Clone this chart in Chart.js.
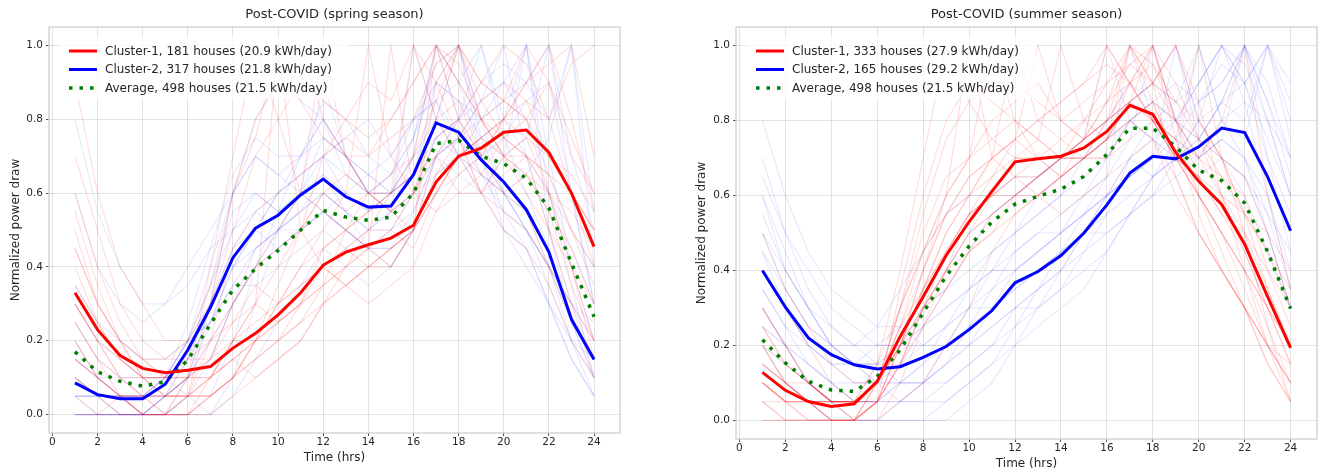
<!DOCTYPE html>
<html>
<head>
<meta charset="utf-8">
<script src="https://cdn.jsdelivr.net/npm/chart.js@4.4.1/dist/chart.umd.min.js"></script>
<style>
    body { margin: 0; background: #fff; }
    #wrap { position: relative; width: 1321px; height: 471px; }
    canvas { position: absolute; top: 0; }
</style>
</head>
<body>
<div id="wrap">
    <canvas id="spring" width="660" height="471" style="left:0"></canvas>
    <canvas id="summer" width="661" height="471" style="left:660px"></canvas>
</div>
<script>
'use strict';

// ось времени и подписи делений
const hours = [1, 2, 3, 4, 5, 6, 7, 8, 9, 10, 11, 12, 13, 14, 15, 16, 17, 18, 19, 20, 21, 22, 23, 24];
const xTicks = [0, 2, 4, 6, 8, 10, 12, 14, 16, 18, 20, 22, 24];
const yTicks = [0, 0.2, 0.4, 0.6, 0.8, 1.0];

// весна
const springTitle = 'Post-COVID (spring season)';
const springLabels = [
    'Cluster-1, 181 houses (20.9 kWh/day)',
    'Cluster-2, 317 houses (21.8 kWh/day)',
    'Average, 498 houses (21.5 kWh/day)',
];
const springCluster1 = [0.33, 0.23, 0.16, 0.125, 0.113, 0.12, 0.13, 0.18, 0.22, 0.27, 0.33, 0.405,
    0.44, 0.46, 0.478, 0.513, 0.63, 0.70, 0.722, 0.765, 0.771, 0.71, 0.60, 0.455];
const springCluster2 = [0.086, 0.054, 0.043, 0.043, 0.082, 0.175, 0.29, 0.425, 0.505, 0.54, 0.595, 0.638,
    0.59, 0.562, 0.565, 0.65, 0.79, 0.765, 0.69, 0.63, 0.555, 0.44, 0.258, 0.149];
const springAverage = [0.17, 0.116, 0.09, 0.077, 0.089, 0.148, 0.245, 0.338, 0.395, 0.445, 0.50, 0.553,
    0.535, 0.526, 0.535, 0.60, 0.734, 0.743, 0.70, 0.68, 0.64, 0.56, 0.41, 0.265];

// отдельные дома (фон), весна
const springHouses1 = [
    [0.6, 0.4, 0.25, 0.15, 0.1, 0.1, 0.1, 0.15, 0.2, 0.25, 0.3, 0.4, 0.45, 0.5, 0.5, 0.6, 0.8, 1.0, 0.9, 0.85, 0.8, 0.7, 0.6, 0.5],
    [0.3, 0.2, 0.1, 0.05, 0, 0, 0.05, 0.1, 0.2, 0.3, 0.35, 0.4, 0.45, 0.4, 0.45, 0.5, 0.7, 0.8, 0.9, 1.0, 0.95, 0.8, 0.6, 0.4],
    [0.1, 0.05, 0, 0, 0, 0, 0.1, 0.2, 0.3, 0.4, 0.5, 0.6, 0.55, 0.6, 0.6, 0.7, 1.0, 0.9, 0.8, 0.7, 0.75, 0.6, 0.4, 0.2],
    [0.5, 0.3, 0.2, 0.15, 0.1, 0.15, 0.2, 0.25, 0.3, 0.25, 0.3, 0.35, 0.4, 0.45, 0.5, 0.45, 0.6, 0.7, 0.8, 0.85, 1.0, 0.9, 0.75, 0.6],
    [0.2, 0.1, 0.05, 0, 0, 0, 0, 0.05, 0.1, 0.15, 0.2, 0.3, 0.35, 0.3, 0.35, 0.4, 0.55, 0.65, 0.7, 0.8, 0.9, 1.0, 0.8, 0.55],
    [0, 0, 0.05, 0, 0.05, 0.1, 0.2, 0.3, 0.4, 0.5, 0.6, 1.0, 0.7, 0.6, 0.55, 0.5, 0.6, 0.7, 0.6, 0.65, 0.7, 0.5, 0.3, 0.1],
    [0.4, 0.25, 0.15, 0.1, 0.1, 0.05, 0.05, 0.1, 0.15, 0.2, 0.3, 0.35, 0.4, 0.5, 0.6, 1.0, 0.8, 0.7, 0.75, 0.8, 0.85, 0.7, 0.6, 0.5],
    [0.7, 0.5, 0.3, 0.2, 0.15, 0.15, 0.15, 0.2, 0.2, 0.25, 0.3, 0.45, 0.5, 0.55, 0.6, 0.65, 0.7, 0.6, 0.6, 0.7, 0.65, 0.6, 0.55, 0.45],
    [0.15, 0.1, 0.05, 0.05, 0.05, 0.1, 0.1, 0.2, 0.25, 0.3, 0.4, 0.45, 0.5, 0.45, 0.4, 0.5, 0.9, 1.0, 0.8, 0.75, 0.7, 0.65, 0.5, 0.35],
    [0.3, 0.2, 0.1, 0.1, 0.05, 0.05, 0.1, 0.15, 0.1, 0.15, 0.2, 0.3, 0.4, 0.45, 1.0, 0.6, 0.55, 0.6, 0.65, 0.75, 0.8, 0.9, 0.7, 0.6],
    [0.45, 0.3, 0.2, 0.1, 0.1, 0.1, 0.15, 0.25, 0.35, 0.3, 0.35, 0.4, 0.35, 0.4, 0.45, 0.5, 0.65, 0.75, 0.85, 0.9, 0.85, 0.8, 0.95, 1.0],
    [0.25, 0.15, 0.1, 0.05, 0.05, 0.05, 0.1, 0.2, 0.3, 1.0, 0.5, 0.4, 0.35, 0.4, 0.45, 0.5, 0.6, 0.7, 0.75, 0.7, 0.65, 0.55, 0.45, 0.3],
    [0.9, 0.6, 0.4, 0.3, 0.2, 0.2, 0.3, 0.5, 0.7, 0.8, 0.9, 0.85, 0.8, 0.75, 0.8, 0.9, 1.0, 0.9, 0.8, 0.7, 0.6, 0.5, 0.4, 0.3],
    [0.05, 0, 0, 0, 0, 0.05, 0.3, 0.6, 0.8, 0.9, 1.0, 0.8, 0.7, 0.6, 0.55, 0.6, 0.7, 0.75, 0.6, 0.5, 0.45, 0.35, 0.2, 0.1],
    [0.2, 0.1, 0.05, 0, 0, 0.1, 0.4, 0.7, 1.0, 0.8, 0.6, 0.55, 0.5, 0.55, 0.6, 0.65, 0.8, 0.85, 0.7, 0.6, 0.55, 0.4, 0.3, 0.2],
    [0.35, 0.25, 0.15, 0.1, 0.05, 0.05, 0.1, 0.15, 0.2, 0.2, 0.25, 0.3, 0.35, 0.4, 0.4, 0.5, 1.0, 0.95, 0.8, 0.7, 0.7, 0.65, 0.6, 0.5],
    [0.1, 0.05, 0.05, 0, 0, 0, 0.05, 0.1, 0.15, 0.2, 0.25, 0.35, 0.5, 0.6, 0.65, 0.7, 0.85, 1.0, 0.9, 0.85, 0.8, 0.6, 0.4, 0.15],
    [0.55, 0.35, 0.2, 0.1, 0.05, 0.05, 0.05, 0.1, 0.2, 0.3, 0.4, 0.5, 0.6, 1.0, 0.7, 0.6, 0.65, 0.7, 0.75, 0.8, 0.75, 0.7, 0.65, 0.55],
    [0.25, 0.15, 0.05, 0.05, 0, 0.05, 0.2, 0.45, 0.55, 0.6, 0.65, 0.7, 0.75, 0.7, 0.8, 0.9, 1.0, 0.8, 0.65, 0.6, 0.65, 0.55, 0.35, 0.2],
    [0.3, 0.2, 0.15, 0.1, 0.1, 0.1, 0.15, 0.3, 0.4, 0.45, 0.5, 0.6, 0.65, 0.6, 0.55, 0.6, 0.75, 0.8, 0.7, 0.8, 0.9, 0.95, 1.0, 0.7],
    [0.15, 0.1, 0.05, 0.05, 0.05, 0.05, 0.05, 0.1, 0.2, 0.35, 0.5, 0.7, 0.8, 0.9, 0.85, 1.0, 0.9, 0.75, 0.6, 0.55, 0.5, 0.4, 0.25, 0.15],
    [0.45, 0.3, 0.2, 0.15, 0.15, 0.2, 0.35, 0.6, 0.75, 1.0, 0.85, 0.75, 0.7, 0.7, 0.75, 0.8, 0.95, 1.0, 0.85, 0.75, 0.7, 0.6, 0.5, 0.4],
];
const springHouses2 = [
    [0.1, 0.05, 0.05, 0.05, 0.1, 0.2, 0.35, 0.5, 0.6, 0.55, 0.6, 0.7, 0.6, 0.55, 0.6, 0.7, 1.0, 0.8, 0.7, 0.6, 0.5, 0.35, 0.2, 0.1],
    [0.05, 0.05, 0, 0, 0.05, 0.15, 0.3, 0.45, 0.5, 0.6, 0.7, 0.8, 0.65, 0.6, 0.55, 0.7, 0.8, 1.0, 0.8, 0.6, 0.5, 0.4, 0.25, 0.15],
    [0.15, 0.1, 0.1, 0.1, 0.1, 0.2, 0.25, 0.4, 0.45, 0.5, 0.55, 0.6, 0.55, 0.5, 0.5, 0.55, 0.7, 0.75, 0.85, 1.0, 0.7, 0.5, 0.3, 0.2],
    [0, 0, 0, 0, 0.05, 0.1, 0.2, 0.3, 0.4, 0.45, 0.5, 0.55, 0.6, 0.65, 0.6, 0.65, 0.75, 0.7, 0.75, 0.8, 1.0, 0.6, 0.35, 0.1],
    [0.2, 0.1, 0.05, 0.05, 0.1, 0.2, 0.4, 0.6, 0.7, 0.65, 0.6, 0.55, 0.5, 0.45, 0.5, 0.6, 0.7, 0.65, 0.6, 0.7, 0.75, 1.0, 0.6, 0.3],
    [0.05, 0, 0, 0, 0, 0.1, 0.3, 0.45, 0.55, 0.6, 0.65, 0.7, 0.65, 0.6, 0.6, 0.65, 0.85, 0.7, 0.65, 0.6, 0.65, 0.75, 1.0, 0.4],
    [0.1, 0.05, 0.05, 0.05, 0.1, 0.15, 0.25, 0.35, 0.45, 0.5, 0.55, 0.65, 0.55, 0.5, 0.55, 1.0, 0.8, 0.7, 0.6, 0.5, 0.45, 0.3, 0.2, 0.15],
    [0.05, 0.05, 0.05, 0, 0, 0.05, 0.15, 0.3, 0.4, 0.5, 0.6, 0.75, 0.7, 0.65, 0.6, 0.7, 0.75, 0.8, 1.0, 0.75, 0.6, 0.45, 0.25, 0.1],
    [0.3, 0.2, 0.15, 0.1, 0.1, 0.2, 0.3, 0.4, 0.5, 0.45, 0.5, 0.55, 0.5, 0.45, 0.45, 0.5, 0.65, 0.7, 0.65, 0.6, 0.5, 0.4, 0.3, 0.25],
    [0, 0, 0, 0, 0, 0, 0, 0.1, 0.3, 0.5, 0.6, 0.65, 0.6, 0.55, 0.6, 0.65, 0.9, 1.0, 0.75, 0.6, 0.55, 0.4, 0.2, 0.05],
    [0.6, 0.4, 0.3, 0.25, 0.3, 0.4, 0.5, 0.6, 0.7, 0.65, 0.7, 0.75, 0.7, 0.65, 0.7, 0.8, 0.85, 0.9, 1.0, 0.8, 0.7, 0.6, 0.45, 0.3],
    [0, 0, 0, 0, 0, 0, 0.05, 0.2, 0.4, 0.55, 0.7, 0.85, 0.8, 0.7, 0.65, 0.75, 0.95, 1.0, 0.7, 0.5, 0.4, 0.3, 0.15, 0.05],
    [0.25, 0.15, 0.1, 0.05, 0.05, 0.1, 0.3, 0.6, 0.8, 0.9, 0.85, 0.8, 0.7, 0.6, 0.65, 0.75, 0.9, 0.85, 0.8, 0.9, 1.0, 0.7, 0.4, 0.2],
    [0.8, 0.55, 0.4, 0.3, 0.3, 0.35, 0.45, 0.5, 0.55, 0.5, 0.5, 0.55, 0.5, 0.45, 0.45, 0.55, 0.7, 0.75, 0.8, 0.85, 0.9, 1.0, 0.7, 0.5],
    [0.05, 0.05, 0, 0, 0, 0.05, 0, 0.05, 0.15, 0.25, 0.35, 0.45, 0.4, 0.35, 0.4, 0.5, 0.7, 0.8, 0.9, 0.95, 0.9, 0.8, 1.0, 0.55],
    [0.1, 0.05, 0.05, 0, 0.05, 0.15, 0.35, 0.55, 0.6, 0.55, 0.6, 0.9, 0.7, 0.6, 0.6, 0.75, 1.0, 0.9, 0.7, 0.55, 0.45, 0.3, 0.15, 0.05],
    [0.35, 0.25, 0.2, 0.15, 0.15, 0.2, 0.25, 0.35, 0.35, 0.4, 0.45, 0.5, 0.45, 0.5, 0.55, 0.6, 0.75, 0.8, 0.85, 0.9, 0.8, 0.65, 0.5, 0.4],
    [0, 0, 0, 0, 0.05, 0.1, 0.25, 0.4, 0.5, 0.6, 0.65, 0.7, 0.75, 0.8, 0.7, 0.8, 0.9, 0.85, 0.75, 0.7, 1.0, 0.5, 0.25, 0.1],
    [0.15, 0.1, 0.05, 0.05, 0.05, 0.1, 0.15, 0.3, 0.45, 0.5, 0.55, 0.6, 0.55, 0.45, 0.4, 0.5, 0.6, 0.65, 0.7, 0.75, 0.85, 0.9, 0.6, 0.3],
    [0.05, 0.05, 0.05, 0.05, 0.1, 0.25, 0.45, 0.65, 0.75, 0.7, 0.7, 0.8, 0.7, 0.6, 0.65, 0.8, 0.85, 0.75, 0.65, 0.55, 0.5, 0.4, 0.3, 0.15],
];

// лето
const summerTitle = 'Post-COVID (summer season)';
const summerLabels = [
    'Cluster-1, 333 houses (27.9 kWh/day)',
    'Cluster-2, 165 houses (29.2 kWh/day)',
    'Average, 498 houses (21.5 kWh/day)',
];
const summerCluster1 = [0.128, 0.08, 0.05, 0.037, 0.044, 0.104, 0.224, 0.33, 0.44, 0.53, 0.612, 0.69,
    0.698, 0.705, 0.727, 0.771, 0.841, 0.817, 0.715, 0.638, 0.576, 0.47, 0.33, 0.193];
const summerCluster2 = [0.40, 0.302, 0.22, 0.175, 0.148, 0.137, 0.143, 0.168, 0.197, 0.242, 0.293, 0.367,
    0.397, 0.44, 0.50, 0.575, 0.66, 0.705, 0.698, 0.73, 0.78, 0.768, 0.65, 0.506];
const summerAverage = [0.215, 0.153, 0.104, 0.081, 0.077, 0.117, 0.188, 0.287, 0.385, 0.465, 0.53, 0.577,
    0.598, 0.617, 0.651, 0.71, 0.78, 0.78, 0.73, 0.668, 0.64, 0.58, 0.45, 0.298];

// отдельные дома (фон), лето
const summerHouses1 = [
    [0.1, 0.05, 0.05, 0, 0, 0.1, 0.3, 0.45, 0.6, 0.7, 0.75, 0.8, 0.75, 0.7, 0.75, 0.85, 1.0, 0.85, 0.7, 0.6, 0.5, 0.4, 0.3, 0.15],
    [0.2, 0.1, 0.05, 0.05, 0.05, 0.1, 0.2, 0.35, 0.45, 0.55, 0.6, 0.7, 0.7, 0.75, 0.8, 0.9, 0.95, 1.0, 0.8, 0.65, 0.55, 0.45, 0.3, 0.2],
    [0.05, 0, 0, 0, 0, 0.05, 0.15, 0.3, 0.4, 0.5, 0.6, 0.65, 0.7, 0.7, 0.75, 1.0, 0.9, 0.8, 0.7, 0.6, 0.5, 0.4, 0.25, 0.1],
    [0.3, 0.2, 0.1, 0.05, 0.05, 0.1, 0.25, 0.4, 0.55, 0.65, 0.7, 0.75, 0.7, 0.65, 0.7, 0.75, 0.85, 0.9, 1.0, 0.8, 0.7, 0.55, 0.45, 0.3],
    [0.1, 0.05, 0, 0, 0, 0.05, 0.2, 0.35, 0.5, 0.6, 0.7, 1.0, 0.8, 0.75, 0.7, 0.7, 0.75, 0.8, 0.75, 0.6, 0.5, 0.35, 0.2, 0.1],
    [0.15, 0.1, 0.05, 0.05, 0.05, 0.15, 0.3, 0.45, 0.55, 0.6, 0.65, 0.7, 0.75, 1.0, 0.8, 0.75, 0.8, 0.85, 0.7, 0.65, 0.55, 0.5, 0.35, 0.2],
    [0.05, 0.05, 0.05, 0, 0, 0.1, 0.25, 0.35, 0.45, 0.55, 0.6, 0.65, 0.65, 0.7, 0.7, 0.8, 0.9, 0.8, 0.75, 1.0, 0.7, 0.55, 0.35, 0.2],
    [0.25, 0.15, 0.1, 0.05, 0.05, 0.05, 0.15, 0.3, 0.4, 0.5, 0.55, 0.6, 0.6, 0.65, 0.7, 0.75, 1.0, 0.9, 0.8, 0.7, 0.65, 0.6, 0.4, 0.25],
    [0, 0, 0, 0, 0, 0.05, 0.2, 0.4, 0.6, 1.0, 0.7, 0.65, 0.6, 0.55, 0.6, 0.65, 0.7, 0.75, 0.65, 0.5, 0.4, 0.3, 0.15, 0.05],
    [0.2, 0.1, 0.1, 0.05, 0.05, 0.1, 0.2, 0.3, 0.35, 0.45, 0.55, 0.6, 0.65, 0.7, 0.8, 0.85, 0.9, 0.95, 0.8, 0.7, 0.8, 1.0, 0.6, 0.35],
    [0.1, 0.05, 0.05, 0.05, 0, 0.1, 0.3, 0.5, 0.65, 0.7, 1.0, 0.8, 0.7, 0.65, 0.7, 0.7, 0.8, 0.75, 0.6, 0.5, 0.4, 0.3, 0.2, 0.1],
    [0.15, 0.1, 0.05, 0, 0, 0.05, 0.15, 0.25, 0.35, 0.45, 0.5, 0.6, 0.65, 0.7, 0.7, 0.75, 0.85, 1.0, 0.9, 0.75, 0.6, 0.45, 0.3, 0.15],
    [0.4, 0.3, 0.2, 0.1, 0.05, 0.1, 0.3, 0.55, 0.75, 0.85, 0.9, 0.9, 0.85, 0.8, 0.85, 0.9, 1.0, 0.95, 0.85, 0.75, 0.65, 0.55, 0.45, 0.35],
    [0.05, 0, 0, 0, 0, 0, 0.1, 0.25, 0.4, 0.55, 0.65, 0.75, 0.8, 0.85, 0.9, 0.95, 0.9, 1.0, 0.8, 0.6, 0.45, 0.3, 0.15, 0.05],
    [0.25, 0.15, 0.1, 0.05, 0.05, 0.15, 0.4, 0.7, 1.0, 0.85, 0.75, 0.7, 0.7, 0.7, 0.75, 0.8, 0.85, 0.8, 0.7, 0.6, 0.5, 0.4, 0.3, 0.2],
    [0.1, 0.05, 0, 0, 0, 0, 0.05, 0.1, 0.2, 0.3, 0.45, 0.55, 0.6, 0.65, 0.75, 0.85, 0.95, 0.9, 0.85, 0.8, 0.7, 0.5, 0.25, 0.05],
    [0.5, 0.35, 0.25, 0.15, 0.1, 0.1, 0.2, 0.35, 0.5, 0.6, 0.7, 0.75, 0.8, 0.85, 0.9, 1.0, 0.9, 0.8, 0.75, 0.7, 0.6, 0.55, 0.5, 0.4],
    [0.15, 0.1, 0.05, 0.05, 0.05, 0.1, 0.25, 0.45, 0.6, 0.7, 0.8, 0.85, 0.9, 0.8, 0.75, 0.8, 1.0, 0.9, 0.65, 0.5, 0.4, 0.3, 0.2, 0.1],
    [0, 0, 0, 0, 0, 0.05, 0.15, 0.3, 0.45, 0.55, 0.6, 0.6, 0.65, 0.7, 0.75, 0.8, 0.85, 0.9, 1.0, 0.85, 0.6, 0.4, 0.2, 0.05],
    [0.3, 0.2, 0.1, 0.05, 0, 0.05, 0.2, 0.4, 0.55, 0.65, 0.7, 0.75, 1.0, 0.8, 0.75, 0.8, 0.85, 0.8, 0.7, 0.65, 0.6, 0.5, 0.4, 0.3],
    [0.1, 0.05, 0.05, 0.05, 0.05, 0.1, 0.2, 0.3, 0.4, 0.45, 0.5, 0.55, 0.6, 0.65, 0.7, 0.75, 0.8, 0.85, 0.8, 0.75, 0.7, 0.65, 0.5, 0.3],
    [0.2, 0.15, 0.1, 0.05, 0.05, 0.05, 0.35, 0.6, 0.8, 0.9, 0.85, 0.8, 0.75, 0.7, 0.7, 0.75, 0.9, 1.0, 0.75, 0.55, 0.4, 0.3, 0.2, 0.15],
];
const summerHouses2 = [
    [0.5, 0.35, 0.25, 0.2, 0.15, 0.15, 0.15, 0.2, 0.2, 0.25, 0.3, 0.4, 0.45, 0.5, 0.6, 0.7, 0.8, 0.85, 0.8, 0.9, 1.0, 0.9, 0.75, 0.6],
    [0.3, 0.2, 0.15, 0.1, 0.05, 0.05, 0.1, 0.1, 0.15, 0.2, 0.25, 0.3, 0.35, 0.4, 0.5, 0.55, 0.7, 0.75, 0.7, 0.75, 0.85, 1.0, 0.7, 0.45],
    [0.6, 0.45, 0.3, 0.2, 0.15, 0.1, 0.1, 0.1, 0.15, 0.2, 0.3, 0.35, 0.4, 0.45, 0.5, 0.6, 0.7, 0.65, 0.7, 0.8, 0.85, 0.8, 1.0, 0.75],
    [0.2, 0.15, 0.1, 0.05, 0.05, 0.05, 0.05, 0.1, 0.15, 0.25, 0.35, 0.45, 0.5, 0.55, 0.6, 0.65, 0.75, 1.0, 0.8, 0.7, 0.75, 0.7, 0.55, 0.35],
    [0.45, 0.3, 0.2, 0.15, 0.1, 0.1, 0.1, 0.15, 0.2, 0.2, 0.25, 0.3, 0.3, 0.35, 0.45, 0.55, 0.6, 0.65, 0.7, 1.0, 0.8, 0.85, 0.8, 0.7],
    [0.35, 0.25, 0.2, 0.15, 0.15, 0.2, 0.25, 0.2, 0.25, 0.3, 0.35, 0.4, 0.45, 0.5, 0.55, 0.6, 0.65, 0.7, 1.0, 0.75, 0.7, 0.65, 0.55, 0.45],
    [0.55, 0.4, 0.3, 0.25, 0.2, 0.2, 0.2, 0.2, 0.25, 0.3, 0.3, 0.35, 0.4, 0.45, 0.5, 0.5, 0.55, 0.6, 0.65, 0.7, 0.75, 1.0, 0.85, 0.65],
    [0.25, 0.2, 0.1, 0.05, 0, 0, 0, 0, 0.05, 0.1, 0.15, 0.25, 0.35, 0.45, 0.55, 0.65, 1.0, 0.8, 0.7, 0.65, 0.7, 0.65, 0.5, 0.3],
    [0.4, 0.3, 0.2, 0.15, 0.15, 0.15, 0.2, 0.25, 0.3, 0.35, 0.4, 0.45, 0.5, 0.5, 0.55, 0.6, 0.65, 0.7, 0.75, 0.7, 0.8, 0.75, 1.0, 0.85],
    [0.5, 0.4, 0.3, 0.2, 0.15, 0.1, 0.05, 0.05, 0.1, 0.15, 0.2, 0.3, 0.35, 0.4, 0.45, 0.5, 0.55, 0.6, 0.7, 0.8, 1.0, 0.9, 0.7, 0.55],
    [0.8, 0.6, 0.45, 0.35, 0.3, 0.25, 0.25, 0.3, 0.35, 0.4, 0.45, 0.5, 0.55, 0.6, 0.65, 0.7, 0.8, 0.85, 0.9, 0.85, 0.9, 1.0, 0.85, 0.7],
    [0.15, 0.1, 0.05, 0, 0, 0, 0, 0, 0, 0.05, 0.1, 0.2, 0.3, 0.4, 0.5, 0.6, 0.7, 0.8, 0.85, 0.9, 1.0, 0.85, 0.6, 0.35],
    [0.6, 0.4, 0.3, 0.2, 0.15, 0.15, 0.2, 0.3, 0.4, 0.5, 0.55, 0.6, 0.65, 0.7, 0.75, 0.8, 0.9, 0.85, 0.8, 0.75, 0.85, 0.9, 1.0, 0.8],
    [0.3, 0.2, 0.1, 0.05, 0.05, 0.05, 0.1, 0.15, 0.25, 0.35, 0.45, 0.5, 0.55, 0.6, 0.7, 0.8, 0.85, 0.9, 1.0, 0.8, 0.7, 0.6, 0.45, 0.3],
    [0.65, 0.5, 0.35, 0.25, 0.2, 0.15, 0.1, 0.1, 0.1, 0.15, 0.2, 0.25, 0.3, 0.35, 0.4, 0.45, 0.55, 0.65, 0.75, 0.85, 0.95, 0.9, 1.0, 0.9],
    [0.2, 0.1, 0.05, 0, 0, 0, 0.05, 0.1, 0.2, 0.3, 0.4, 0.5, 0.6, 0.65, 0.7, 0.75, 0.85, 0.9, 0.85, 1.0, 0.8, 0.7, 0.5, 0.3],
    [0.45, 0.35, 0.25, 0.2, 0.2, 0.25, 0.35, 0.45, 0.55, 0.6, 0.6, 0.65, 0.65, 0.7, 0.7, 0.75, 0.8, 0.75, 0.8, 0.85, 0.9, 1.0, 0.8, 0.6],
    [0.35, 0.25, 0.15, 0.1, 0.05, 0.05, 0.05, 0.05, 0.05, 0.1, 0.15, 0.2, 0.25, 0.3, 0.35, 0.45, 0.55, 0.65, 0.7, 0.75, 0.85, 1.0, 0.9, 0.7],
    [0.7, 0.5, 0.4, 0.3, 0.25, 0.2, 0.2, 0.25, 0.3, 0.35, 0.4, 0.4, 0.45, 0.5, 0.55, 0.6, 0.65, 0.7, 0.8, 0.9, 1.0, 0.95, 0.8, 0.6],
    [0.25, 0.2, 0.15, 0.1, 0.1, 0.1, 0.15, 0.25, 0.35, 0.45, 0.55, 0.6, 0.65, 0.7, 0.75, 1.0, 0.8, 0.75, 0.7, 0.7, 0.75, 0.7, 0.6, 0.4],
];

const FONT = 'DejaVu Sans';
const TEXT = '#262626';
Chart.defaults.font.family = FONT;

// рамка, заголовок и легенда внутри области графика
const decorPlugin = {
    id: 'decor',
    afterDatasetsDraw(chart, args, opts) {
        const ctx = chart.ctx;
        const a = chart.chartArea;
        ctx.save();
        ctx.strokeStyle = '#cccccc';
        ctx.lineWidth = 1.2;
        ctx.strokeRect(a.left, a.top, a.right - a.left, a.bottom - a.top);

        // легенда
        ctx.fillStyle = 'rgba(255,255,255,0.72)';
        ctx.fillRect(a.left + 10, a.top + 10, 290, 62);
        const x0 = a.left + 20;
        ctx.font = '12px "' + FONT + '"';
        ctx.textBaseline = 'middle';
        opts.items.forEach((it, i) => {
            const y = a.top + 24 + i * 18.5;
            ctx.strokeStyle = it.color;
            ctx.lineWidth = it.width;
            ctx.setLineDash(it.dash || []);
            ctx.beginPath();
            ctx.moveTo(x0, y);
            ctx.lineTo(x0 + 28, y);
            ctx.stroke();
            ctx.setLineDash([]);
            ctx.fillStyle = TEXT;
            ctx.fillText(it.label, x0 + 36, y + 0.5);
        });

        // заголовок
        ctx.font = '13px "' + FONT + '"';
        ctx.textAlign = 'center';
        ctx.fillText(opts.title, (a.left + a.right) / 2, 15);
        ctx.restore();
    },
};

function houseSets(rows, color) {
    return rows.map((r) => ({
        data: r.map((v, i) => ({ x: hours[i], y: v })),
        borderColor: color,
        borderWidth: 1.2,
        pointRadius: 0,
        order: 2,
    }));
}

function mainSet(values, color, width, dash) {
    return {
        data: values.map((v, i) => ({ x: hours[i], y: v })),
        borderColor: color,
        borderWidth: width,
        borderDash: dash || [],
        borderCapStyle: 'butt',
        pointRadius: 0,
        order: 0,
    };
}

function makeChart(id, s) {
    const ctx = document.getElementById(id).getContext('2d');
    const datasets = [].concat(
        houseSets(s.houses1, 'rgba(255,0,0,0.13)'),
        houseSets(s.houses2, 'rgba(0,0,255,0.09)'),
        [
            mainSet(s.c1, '#ff0000', 3),
            mainSet(s.c2, '#0000ff', 3),
            mainSet(s.avg, '#008000', 3.5, [3.5, 7]),
        ]
    );
    const cfg = {
        type: 'line',
        data: { datasets },
        plugins: [decorPlugin],
        options: {
            responsive: false,
            animation: false,
            devicePixelRatio: 1,
            layout: { padding: { top: 27, left: s.padLeft, right: s.padRight, bottom: 0 } },
            plugins: {
                legend: { display: false },
                tooltip: { enabled: false },
                decor: {
                    title: s.title,
                    items: [
                        { label: s.labels[0], color: '#ff0000', width: 3 },
                        { label: s.labels[1], color: '#0000ff', width: 3 },
                        { label: s.labels[2], color: '#008000', width: 3.5, dash: [3.5, 7] },
                    ],
                },
            },
            scales: {
                x: {
                    type: 'linear',
                    min: -0.15,
                    max: 25.15,
                    afterBuildTicks: (sc) => { sc.ticks = xTicks.map((v) => ({ value: v })); },
                    afterFit: (sc) => { sc.height = s.xHeight; },
                    ticks: {
                        font: { size: 10.5 }, color: TEXT, padding: 0,
                        maxRotation: 0, autoSkip: false,
                        callback: (v) => String(v),
                    },
                    grid: { color: 'rgba(0,0,0,0.11)', tickLength: 3, tickColor: '#555' },
                    border: { display: false },
                    title: {
                        display: true, text: 'Time (hrs)', color: TEXT,
                        font: { size: 12 }, padding: { top: 0, bottom: s.xTitlePad },
                    },
                },
                y: {
                    min: -0.05,
                    max: 1.05,
                    afterBuildTicks: (sc) => { sc.ticks = yTicks.map((v) => ({ value: v })); },
                    afterFit: (sc) => { sc.width = s.yWidth; },
                    ticks: {
                        font: { size: 10.5 }, color: TEXT, padding: 3,
                        callback: (v) => v.toFixed(1),
                    },
                    grid: { color: 'rgba(0,0,0,0.11)', tickLength: 3, tickColor: '#555' },
                    border: { display: false },
                    title: {
                        display: true, text: 'Normalized power draw', color: TEXT,
                        font: { size: 12 }, padding: { top: s.yTitlePad, bottom: 0 },
                    },
                },
            },
        },
    };
    return new Chart(ctx, cfg);
}

makeChart('spring', {
    title: springTitle, labels: springLabels,
    c1: springCluster1, c2: springCluster2, avg: springAverage,
    houses1: springHouses1, houses2: springHouses2,
    padLeft: 0, padRight: 40, yWidth: 49, xHeight: 38, xTitlePad: 6, yTitlePad: 8.5,
});

makeChart('summer', {
    title: summerTitle, labels: summerLabels,
    c1: summerCluster1, c2: summerCluster2, avg: summerAverage,
    houses1: summerHouses1, houses2: summerHouses2,
    padLeft: 26, padRight: 4, yWidth: 50, xHeight: 32, xTitlePad: 0, yTitlePad: 9,
});
</script>
</body>
</html>
